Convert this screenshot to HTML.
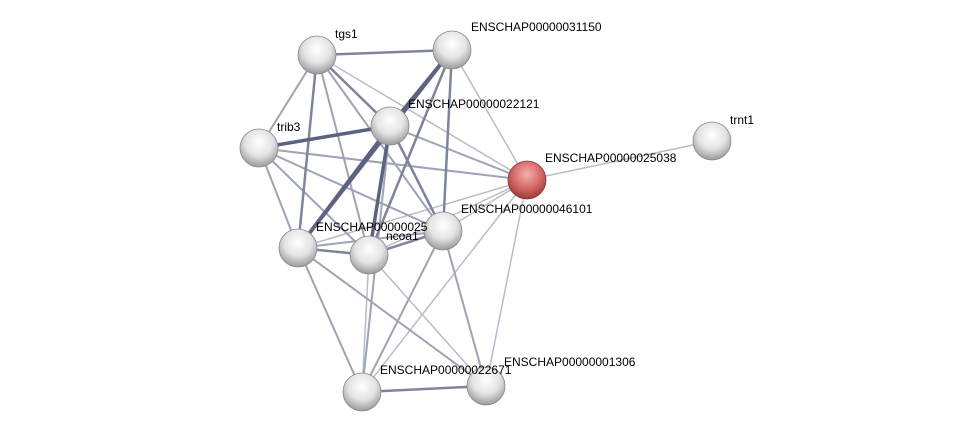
<!DOCTYPE html>
<html><head><meta charset="utf-8"><style>
html,body{margin:0;padding:0;background:#fff;}
svg{display:block}
text{font-family:"Liberation Sans",sans-serif;font-size:12px;fill:#000}
</style></head><body>
<svg width="975" height="437" viewBox="0 0 975 437">
<defs>
<radialGradient id="g" cx="50%" cy="35%" r="65%">
<stop offset="0" stop-color="#ffffff"/><stop offset="0.55" stop-color="#e4e4e4"/><stop offset="1" stop-color="#9a9a9a"/>
</radialGradient>
<radialGradient id="r" cx="50%" cy="35%" r="65%">
<stop offset="0" stop-color="#f2b0b0"/><stop offset="0.55" stop-color="#d86a6a"/><stop offset="1" stop-color="#9a3a3a"/>
</radialGradient>
</defs>
<g stroke-linecap="round">
<g stroke="#b8bcc8" stroke-width="1.5">
<line x1="527" y1="180" x2="712" y2="141"/>
<line x1="527" y1="180" x2="452" y2="50"/>
<line x1="527" y1="180" x2="317" y2="55"/>
<line x1="527" y1="180" x2="298" y2="248"/>
<line x1="527" y1="180" x2="369" y2="255"/>
<line x1="527" y1="180" x2="362" y2="392"/>
<line x1="527" y1="180" x2="486" y2="386"/>
<line x1="527" y1="180" x2="443" y2="231"/>
<line x1="369" y1="255" x2="486" y2="386"/>
<line x1="369" y1="255" x2="362" y2="392"/>
</g>
<g stroke="#9ea3b6" stroke-width="2">
<line x1="259" y1="148" x2="527" y2="180"/>
<line x1="390" y1="126" x2="527" y2="180"/>
<line x1="259" y1="148" x2="317" y2="55"/>
<line x1="259" y1="148" x2="443" y2="231"/>
<line x1="259" y1="148" x2="369" y2="255"/>
<line x1="259" y1="148" x2="298" y2="248"/>
<line x1="317" y1="55" x2="443" y2="231"/>
<line x1="317" y1="55" x2="369" y2="255"/>
<line x1="443" y1="231" x2="362" y2="392"/>
<line x1="443" y1="231" x2="486" y2="386"/>
<line x1="298" y1="248" x2="362" y2="392"/>
<line x1="298" y1="248" x2="486" y2="386"/>
<line x1="298" y1="248" x2="443" y2="231"/>
<line x1="390" y1="126" x2="362" y2="392"/>
</g>
<g stroke="#7e849c" stroke-width="2.5">
<line x1="317" y1="55" x2="452" y2="50"/>
<line x1="317" y1="55" x2="390" y2="126"/>
<line x1="317" y1="55" x2="298" y2="248"/>
<line x1="452" y1="50" x2="443" y2="231"/>
<line x1="452" y1="50" x2="369" y2="255"/>
<line x1="390" y1="126" x2="443" y2="231"/>
<line x1="362" y1="392" x2="486" y2="386"/>
<line x1="369" y1="255" x2="443" y2="231"/>
<line x1="298" y1="248" x2="369" y2="255"/>
</g>
<g stroke="#5c6380" stroke-width="3.5">
<line x1="452" y1="50" x2="390" y2="126"/>
<line x1="452" y1="50" x2="298" y2="248"/>
<line x1="259" y1="148" x2="390" y2="126"/>
<line x1="390" y1="126" x2="298" y2="248"/>
<line x1="390" y1="126" x2="369" y2="255"/>
</g>
</g>
<g>
<circle cx="317" cy="55" r="19" fill="url(#g)" stroke="#8a8a8a" stroke-width="0.8"/>
<circle cx="452" cy="50" r="19" fill="url(#g)" stroke="#8a8a8a" stroke-width="0.8"/>
<circle cx="390" cy="126" r="19" fill="url(#g)" stroke="#8a8a8a" stroke-width="0.8"/>
<circle cx="259" cy="148" r="19" fill="url(#g)" stroke="#8a8a8a" stroke-width="0.8"/>
<circle cx="712" cy="141" r="19" fill="url(#g)" stroke="#8a8a8a" stroke-width="0.8"/>
<circle cx="527" cy="180" r="19" fill="url(#r)" stroke="#8a3a3a" stroke-width="0.8"/>
<circle cx="443" cy="231" r="19" fill="url(#g)" stroke="#8a8a8a" stroke-width="0.8"/>
<circle cx="298" cy="248" r="19" fill="url(#g)" stroke="#8a8a8a" stroke-width="0.8"/>
<circle cx="362" cy="392" r="19" fill="url(#g)" stroke="#8a8a8a" stroke-width="0.8"/>
<circle cx="486" cy="386" r="19" fill="url(#g)" stroke="#8a8a8a" stroke-width="0.8"/>
</g>
<text x="335" y="38">tgs1</text>
<text x="471" y="31">ENSCHAP00000031150</text>
<text x="408" y="108">ENSCHAP00000022121</text>
<text x="277" y="131">trib3</text>
<text x="730" y="124">trnt1</text>
<text x="545" y="162">ENSCHAP00000025038</text>
<text x="461" y="213">ENSCHAP00000046101</text>
<text x="386" y="240">ncoa1</text>
<circle cx="369" cy="255" r="19" fill="url(#g)" stroke="#8a8a8a" stroke-width="0.8"/>
<text x="316" y="231">ENSCHAP00000025</text>
<text x="504" y="366">ENSCHAP00000001306</text>
<text x="380" y="374">ENSCHAP00000022671</text>
</svg>
</body></html>
